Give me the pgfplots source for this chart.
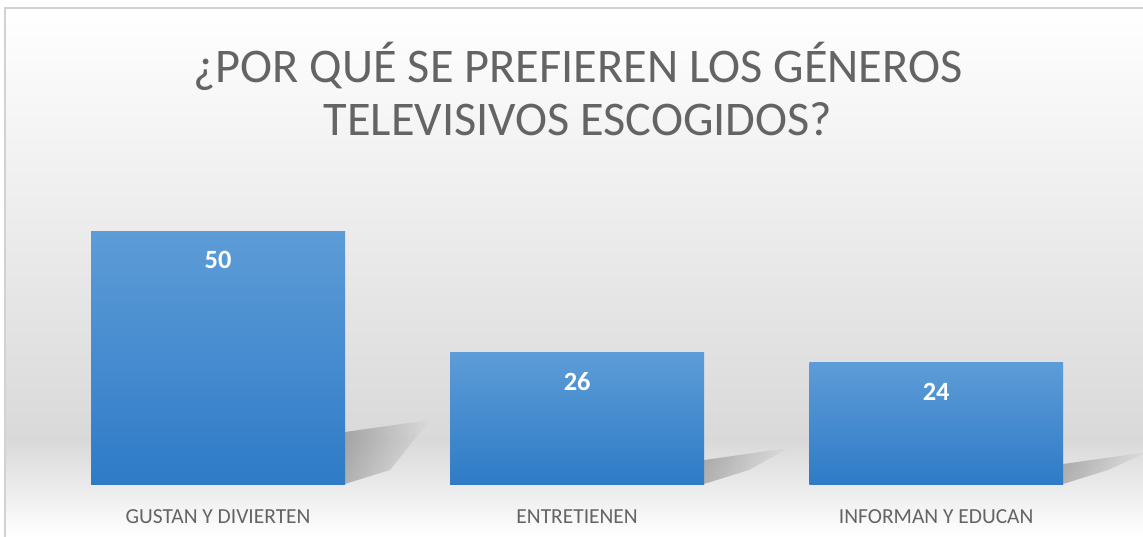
\documentclass[border=0pt]{standalone}
\usepackage{pgfplots}
\pgfplotsset{compat=1.18}
\usepackage{fontspec}
\setmainfont{Carlito}
\usetikzlibrary{fadings}
\definecolor{titlegray}{RGB}{100,100,100}
\definecolor{bartop}{RGB}{93,156,215}
\definecolor{barbot}{RGB}{47,123,199}
\definecolor{bgmid}{RGB}{217,217,217}
\definecolor{framegray}{RGB}{210,210,210}
\tikzfading[name=shadowfade, left color=transparent!20, right color=transparent!100]
\begin{document}
\begin{tikzpicture}[x=0.02cm,y=0.02cm]
% background, pixel coordinates flipped: Y = 537 - y
\useasboundingbox (0,0) rectangle (1143,537);
\fill[white] (0,0) rectangle (1143,537);
\shade[top color=white, bottom color=bgmid] (5,529) rectangle (1143,97);
\shade[top color=bgmid, bottom color=white] (5,97) rectangle (1143,0);
\draw[framegray, line width=1pt] (5,0) -- (5,529) -- (1143,529);
% title
\node[text=titlegray, font=\fontsize{27.5}{30}\selectfont, align=center] at (578,448)
  {¿POR QUÉ SE PREFIEREN LOS GÉNEROS\\TELEVISIVOS ESCOGIDOS?};
% bar shadows
\foreach \xa/\ya in {345/117, 704/89, 1063/85}{
  \fill[black, opacity=0.3, path fading=shadowfade]
    (\xa,53) -- (\xa,\ya-12) -- (\xa+85,\ya) -- (\xa+45,67) -- cycle;
}
\begin{axis}[
    at={(0.77cm,1.06cm)}, anchor=south west,
    scale only axis,
    width=21.55cm, height=6.072cm,
    xmin=-0.5, xmax=2.5,
    ymin=0, ymax=60,
    axis line style={draw=none},
    ytick=\empty,
    xtick={0,1,2},
    xticklabels={GUSTAN Y DIVIERTEN, ENTRETIENEN, INFORMAN Y EDUCAN},
    xtick style={draw=none},
    xticklabel style={text=titlegray, font=\fontsize{12.2}{14}\selectfont, anchor=center, yshift=-0.5cm},
    clip=false,
    ybar, bar width=5.08cm, bar shift=0pt,
    nodes near coords,
    /pgf/number format/assume math mode=true,
    every node near coord/.append style={text=white, font=\bfseries\fontsize{15}{18}\selectfont, anchor=center, yshift=-0.58cm},
]
\addplot[draw=none, top color=bartop, bottom color=barbot] coordinates {(0,50)};
\addplot[draw=none, top color=bartop, bottom color=barbot] coordinates {(1,26)};
\addplot[draw=none, top color=bartop, bottom color=barbot] coordinates {(2,24)};
\end{axis}
\end{tikzpicture}
\end{document}
